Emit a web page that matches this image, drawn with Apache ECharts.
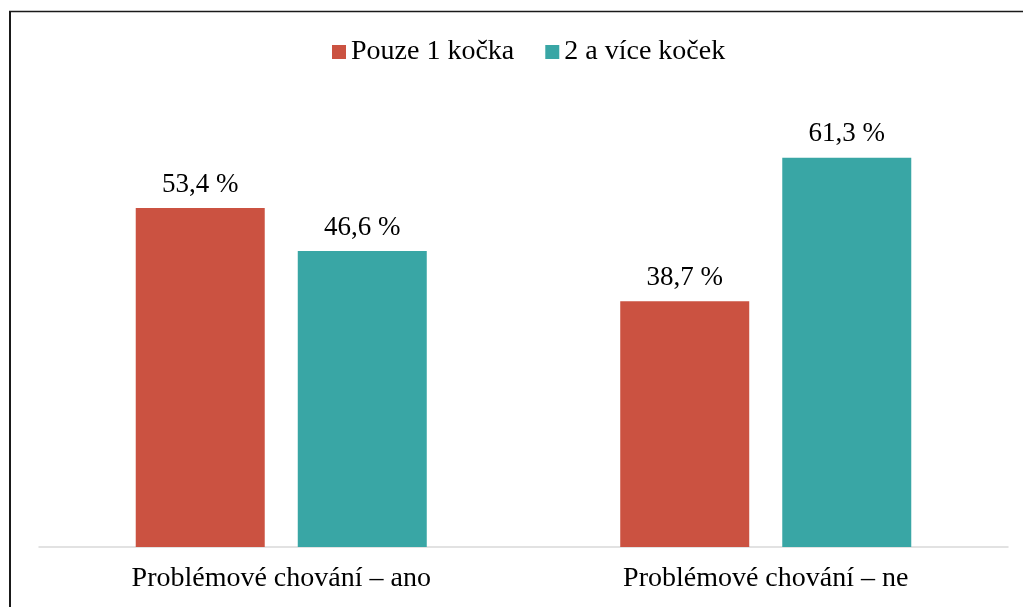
<!DOCTYPE html>
<html>
<head>
<meta charset="utf-8">
<script src="https://cdn.jsdelivr.net/npm/echarts@6/dist/echarts.min.js"></script>
<style>
  html, body { margin: 0; padding: 0; background: #fff; }
  #chart { width: 1023px; height: 607px; }
</style>
</head>
<body>
<div id="chart"></div>
<script>
const categories = ['Problémové chování – ano', 'Problémové chování – ne'];
const seriesNames = ['Pouze 1 kočka', '2 a více koček'];
const onlyOneCat = [53.4, 38.7];
const twoOrMoreCats = [46.6, 61.3];
const seriesValues = [onlyOneCat, twoOrMoreCats];

const colors = ['#cb5241', '#39a6a5'];
const font = '"Liberation Serif", "Times New Roman", serif';

const chart = echarts.init(document.getElementById('chart'));

chart.setOption({
  animation: false,
  textStyle: { fontFamily: font },
  graphic: [
    { type: 'line', shape: { x1: 10, y1: 11, x2: 10, y2: 607 }, style: { stroke: '#1a1a1a', lineWidth: 2 } },
    { type: 'line', shape: { x1: 9, y1: 11.5, x2: 1023, y2: 11.5 }, style: { stroke: '#1a1a1a', lineWidth: 1.5 } }
  ],
  legend: {
    data: seriesNames,
    left: 327,
    top: 33,
    itemWidth: 14,
    itemHeight: 14,
    itemGap: 31,
    icon: 'rect',
    textStyle: { fontFamily: font, fontSize: 28, color: '#000' }
  },
  grid: { left: 39, right: 15, top: 102.5, bottom: 60 },
  xAxis: {
    type: 'category',
    data: categories,
    axisTick: { show: false },
    axisLine: { lineStyle: { color: '#d9d9d9', width: 1.5 } },
    axisLabel: { fontFamily: font, fontSize: 28, color: '#000', margin: 18 }
  },
  yAxis: {
    type: 'value',
    min: 0,
    max: 70,
    show: false,
    splitLine: { show: false }
  },
  series: seriesNames.map((name, i) => ({
    name: name,
    type: 'bar',
    data: seriesValues[i],
    barWidth: 129,
    barGap: '25.6%',
    itemStyle: { color: colors[i] },
    label: {
      show: true,
      position: 'top',
      distance: 10,
      fontFamily: font,
      fontSize: 27,
      color: '#000',
      formatter: p => p.value.toFixed(1).replace('.', ',') + ' %'
    }
  }))
});
</script>
</body>
</html>
